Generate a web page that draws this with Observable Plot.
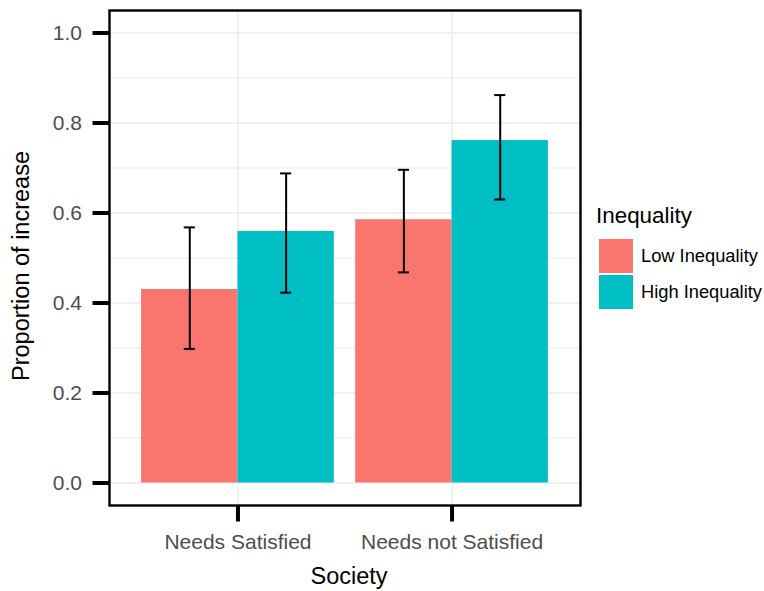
<!DOCTYPE html>
<html>
<head>
<meta charset="utf-8">
<script src="https://cdn.jsdelivr.net/npm/d3@7"></script>
<script src="https://cdn.jsdelivr.net/npm/@observablehq/plot@0.6"></script>
<style>
  html, body { margin: 0; padding: 0; background: #fff; }
  #wrap { position: relative; width: 764px; height: 591px; font-family: "Liberation Sans", Arial, sans-serif; }
  #legend { position: absolute; left: 596px; top: 203px; }
  #legend .title { font-size: 22.4px; color: #000; line-height: 26px; height: 35px; }
  #legend .row { display: flex; align-items: center; height: 36px; }
  #legend .key { width: 34px; height: 34px; margin-left: 3px; margin-right: 8px; }
  #legend .lab { font-size: 18.3px; color: #000; }
</style>
</head>
<body>
<div id="wrap"></div>
<script>
const society = ["Needs Satisfied", "Needs not Satisfied"];
const inequality = ["Low Inequality", "High Inequality"];
const colors = ["#F8766D", "#00BFC4"];
const lowValues = [0.430, 0.585];
const highValues = [0.559, 0.761];
const lowLower = [0.298, 0.468];
const lowUpper = [0.568, 0.696];
const highLower = [0.423, 0.630];
const highUpper = [0.688, 0.862];
const yTicks = [0, 0.2, 0.4, 0.6, 0.8, 1.0];
const yMinor = [0.1, 0.3, 0.5, 0.7, 0.9];
const xTitle = "Society";
const yTitle = "Proportion of increase";
const legendTitle = "Inequality";

// build table (dodged positions, ggplot style: total width 0.9)
const dodge = 0.9;
const rows = [];
society.forEach((s, i) => {
  [[lowValues, lowLower, lowUpper], [highValues, highLower, highUpper]].forEach(([v, lo, hi], j) => {
    const x1 = (i + 1) - dodge / 2 + j * dodge / 2;
    rows.push({society: s, ineq: inequality[j], x1, x2: x1 + dodge / 2, xc: x1 + dodge / 4,
      value: v[i], lo: lo[i], hi: hi[i]});
  });
});

const capHalf = 0.026;

const chart = Plot.plot({
  width: 764,
  height: 591,
  marginLeft: 109,
  marginRight: 184,
  marginTop: 10,
  marginBottom: 86,
  style: {fontFamily: "'Liberation Sans', Arial, sans-serif", background: "#fff"},
  x: {type: "linear", domain: [0.4, 2.6]},
  y: {domain: [-0.05, 1.05]},
  color: {domain: inequality, range: colors},
  marks: [
    Plot.gridY(yMinor, {stroke: "#ebebeb", strokeOpacity: 1, strokeWidth: 1}),
    Plot.gridY(yTicks, {stroke: "#ebebeb", strokeOpacity: 1, strokeWidth: 1.5}),
    Plot.gridX([1, 2], {stroke: "#ebebeb", strokeOpacity: 1, strokeWidth: 1.5}),
    Plot.rectY(rows, {x1: "x1", x2: "x2", y1: 0, y2: "value", fill: "ineq"}),
    Plot.ruleX(rows, {x: "xc", y1: "lo", y2: "hi", stroke: "black", strokeWidth: 2}),
    Plot.ruleY(rows, {y: "lo", x1: d => d.xc - capHalf, x2: d => d.xc + capHalf, stroke: "black", strokeWidth: 2}),
    Plot.ruleY(rows, {y: "hi", x1: d => d.xc - capHalf, x2: d => d.xc + capHalf, stroke: "black", strokeWidth: 2}),
    Plot.frame({stroke: "black", strokeWidth: 2.4}),
    Plot.axisY({ticks: yTicks, tickFormat: d3.format(".1f"), tickSize: 16.5, tickPadding: 11,
      stroke: "black", fill: "#4d4d4d", strokeWidth: 4, fontSize: 21, label: null}),
    Plot.axisX({ticks: [1, 2], tickFormat: d => society[d - 1], tickSize: 16.5, tickPadding: 12,
      stroke: "black", fill: "#4d4d4d", strokeWidth: 4, fontSize: 21, label: null}),
    Plot.text([xTitle], {frameAnchor: "bottom", dy: 78, dx: 4, fontSize: 23.5, fill: "black"}),
    Plot.text([yTitle], {frameAnchor: "left", textAnchor: "middle", rotate: -90, dx: -88, dy: 8, fontSize: 23.5, fill: "black"})
  ]
});

// make axis ticks bold like the reference
d3.select(chart).selectAll('g[aria-label$="axis tick"]')
  .attr("stroke-width", 4).attr("stroke", "black")
  .selectAll("*").attr("stroke-width", 4).attr("stroke", "black");

const wrap = document.getElementById("wrap");
wrap.appendChild(chart);

const legend = document.createElement("div");
legend.id = "legend";
const t = document.createElement("div");
t.className = "title";
t.textContent = legendTitle;
legend.appendChild(t);
inequality.forEach((name, i) => {
  const row = document.createElement("div");
  row.className = "row";
  const key = document.createElement("div");
  key.className = "key";
  key.style.background = colors[i];
  const lab = document.createElement("span");
  lab.className = "lab";
  lab.textContent = name;
  row.appendChild(key);
  row.appendChild(lab);
  legend.appendChild(row);
});
wrap.appendChild(legend);
</script>
</body>
</html>
